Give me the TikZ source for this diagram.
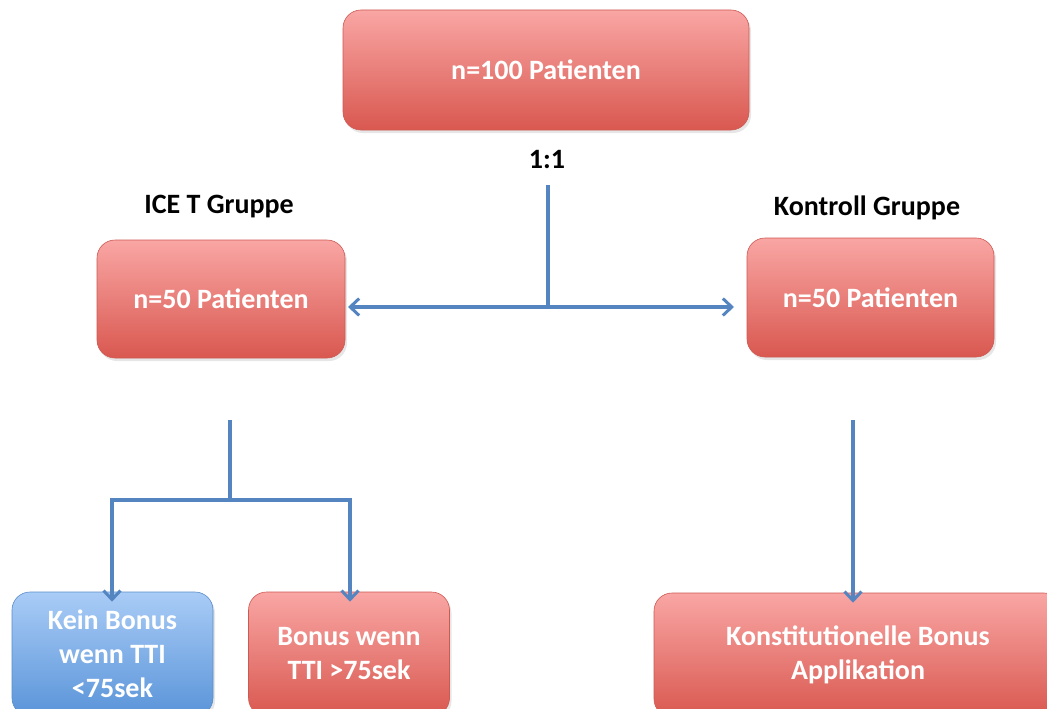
\documentclass[tikz,border=0pt]{standalone}
\usepackage{fontspec}
\setmainfont{Carlito}
\usetikzlibrary{positioning}
\usetikzlibrary{shadows}
\usetikzlibrary{arrows.meta}

\definecolor{boxredtop}{HTML}{F9A6A4}
\definecolor{boxredbot}{HTML}{D95850}
\definecolor{boxredline}{HTML}{CD5953}
\definecolor{boxbluetop}{HTML}{A9CCF6}
\definecolor{boxbluebot}{HTML}{5A94D9}
\definecolor{boxblueline}{HTML}{5A8CC8}
\definecolor{arrowblue}{HTML}{5585C0}

\tikzset{
  redbox/.style={rounded corners=18pt, draw=boxredline, line width=0.6pt,
    top color=boxredtop, bottom color=boxredbot, text=white, inner sep=0pt,
    font=\fontsize{28}{34}\selectfont\bfseries, align=center,
    drop shadow={opacity=0.2, shadow xshift=2pt, shadow yshift=-3pt}},
  bluebox/.style={redbox, draw=boxblueline, top color=boxbluetop, bottom color=boxbluebot},
  grouplabel/.style={font=\fontsize{28}{34}\selectfont\bfseries, text=black},
  flowline/.style={arrowblue, line width=3.5pt},
  flowarrow/.style={flowline, -{Straight Barb[length=9pt,width=17pt,line width=3pt]}},
}

\begin{document}
\begin{tikzpicture}[x=1pt, y=-1pt]
\useasboundingbox (0,0) rectangle (1047,709);
\clip (0,0) rectangle (1047,709);

% boxes
{
\node[redbox, minimum width=406pt, minimum height=120pt] (total) at (546,70) {n=100 Patienten};

\node[redbox, minimum width=248pt, minimum height=118pt] (iceT) at (221,299) {n=50 Patienten};
\node[redbox, minimum width=247pt, minimum height=119pt] (kontroll) at (870.5,297.5) {n=50 Patienten};

\node[bluebox, minimum width=201pt, minimum height=124pt] (keinBonus) at (112.5,654) {Kein Bonus\\wenn TTI\\<75sek};
\node[redbox, minimum width=201pt, minimum height=124pt] (bonus) at (349,654) {Bonus wenn\\TTI >75sek};
\node[redbox, minimum width=408pt, minimum height=124pt] (konst) at (858,655) {Konstitutionelle Bonus\\Applikation};
}

% labellings
{
\node[grouplabel] (ratio) at (547,160) {1:1};
\node[grouplabel] (iceTlabel) at (219,207) {ICE T Gruppe};
\node[grouplabel] (kontrolllabel) at (867,208) {Kontroll Gruppe};
}

% arrows
{
\coordinate (randTop) at (548,185);
\coordinate (randSplit) at (548,307);
\coordinate (iceTend) at (348,307);
\coordinate (kontrollend) at (734,307);

\draw[flowline] (randTop) -- (randSplit);
\draw[flowarrow] (randSplit) -- (iceTend);
\draw[flowarrow] (randSplit) -- (kontrollend);

\coordinate (iceTtop) at (230,420);
\coordinate (iceTsplit) at (230,500);
\coordinate (leftCorner) at (112,500);
\coordinate (rightCorner) at (350,500);

\draw[flowline] (iceTtop) -- (iceTsplit);
\draw[flowarrow] (iceTsplit) -- (leftCorner) -- ([yshift=-10pt]keinBonus.north -| leftCorner);
\draw[flowarrow] (iceTsplit) -- (rightCorner) -- ([yshift=-10pt]bonus.north -| rightCorner);

\coordinate (kontrolltop) at (853,420);
\draw[flowarrow] (kontrolltop) -- ([yshift=-10pt]konst.north -| kontrolltop);
}

\end{tikzpicture}
\end{document}
